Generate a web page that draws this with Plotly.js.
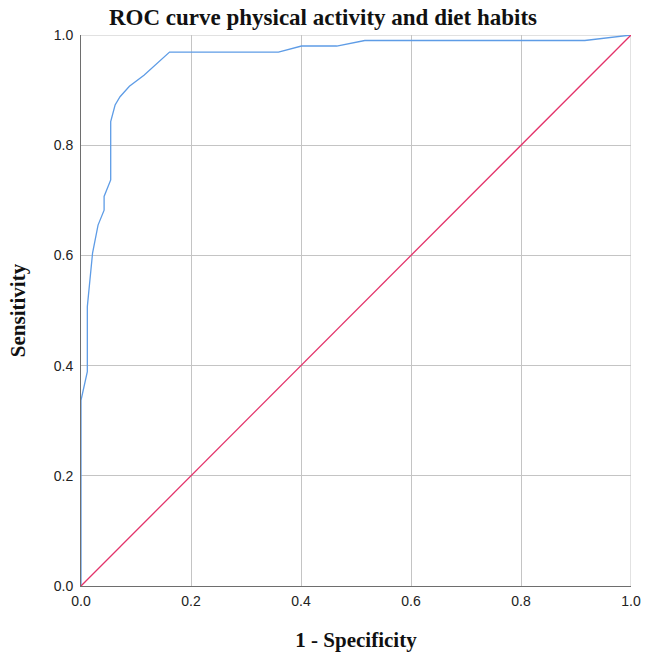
<!DOCTYPE html>
<html>
<head>
<meta charset="utf-8">
<script src="https://cdn.plot.ly/plotly-3.0.1.min.js"></script>
<style>html,body{margin:0;padding:0;background:#fff;}#chart{width:646px;height:658px;}</style>
</head>
<body>
<div id="chart"></div>
<script>
var rocX = [0, 0, 0.0115, 0.0115, 0.021, 0.031, 0.042, 0.042, 0.054, 0.054, 0.062, 0.071, 0.088, 0.1145, 0.161, 0.359, 0.401, 0.465, 0.516, 0.916, 1.0];
var rocY = [0, 0.337, 0.389, 0.507, 0.604, 0.655, 0.682, 0.707, 0.737, 0.843, 0.873, 0.888, 0.907, 0.927, 0.969, 0.969, 0.980, 0.980, 0.990, 0.990, 1.0];
var refX = [0, 1];
var refY = [0, 1];
var tickVals = [0, 0.2, 0.4, 0.6, 0.8, 1.0];
var tickText = ['0.0', '0.2', '0.4', '0.6', '0.8', '1.0'];

var traces = [
  {x: rocX, y: rocY, mode: 'lines', line: {color: '#5e9ce6', width: 1.3}, hoverinfo: 'skip', showlegend: false},
  {x: refX, y: refY, mode: 'lines', line: {color: '#e3336a', width: 1.3}, hoverinfo: 'skip', showlegend: false}
];

var serif = 'Liberation Serif, Times New Roman, serif';
var axisCommon = {
  range: [0, 1], tickvals: tickVals, ticktext: tickText,
  showgrid: true, gridcolor: '#c4c4c4', gridwidth: 1,
  zeroline: false, showline: true, linecolor: '#6e6e6e', linewidth: 1,
  ticks: '', tickfont: {family: 'Liberation Sans, Arial, sans-serif', size: 14, color: '#222'},
  fixedrange: true
};

var layout = {
  width: 646, height: 658,
  margin: {l: 81, r: 15, t: 35, b: 72},
  paper_bgcolor: '#fff', plot_bgcolor: '#fff',
  title: {text: 'ROC curve physical activity and diet habits', x: 0.5, xanchor: 'center', y: 0.975, yanchor: 'middle',
    font: {family: serif, size: 23, color: '#111', weight: 'bold'}},
  xaxis: Object.assign({}, axisCommon, {
    title: {text: '1 - Specificity', standoff: 24, font: {family: serif, size: 21, color: '#111', weight: 'bold'}},
    ticklabelstandoff: 2
  }),
  yaxis: Object.assign({}, axisCommon, {
    title: {text: 'Sensitivity', standoff: 22, font: {family: serif, size: 21, color: '#111', weight: 'bold'}},
    ticklabelstandoff: 4
  }),
  shapes: [
    {type: 'line', xref: 'x', yref: 'y', x0: 1, x1: 1, y0: 0, y1: 1, line: {color: '#c4c4c4', width: 1}, layer: 'below'},
    {type: 'line', xref: 'x', yref: 'y', x0: 0, x1: 1, y0: 1, y1: 1, line: {color: '#c4c4c4', width: 1}, layer: 'below'}
  ]
};

Plotly.newPlot('chart', traces, layout, {displayModeBar: false, staticPlot: true});
</script>
</body>
</html>
